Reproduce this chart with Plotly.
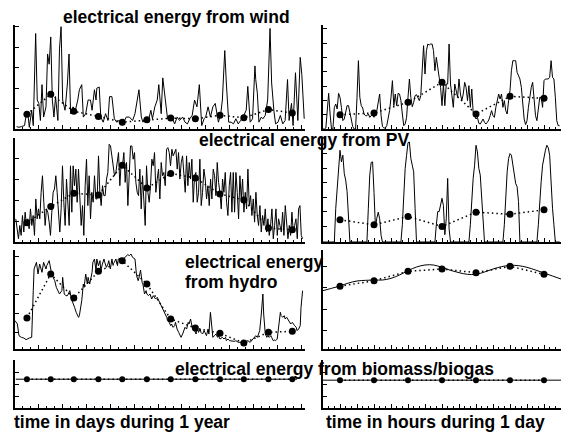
import numpy as np
import plotly.graph_objects as go

# ---------------- data (arbitrary energy units) ----------------
month_days = [15, 45, 74, 105, 135, 166, 196, 227, 258, 288, 319, 349]
day_hours = [12, 36, 60, 84, 108, 132, 156]

wind_days = [2, 5, 8, 12, 14, 16, 18, 21, 23, 25, 26, 28, 30, 32, 34, 36, 39, 41, 43, 45, 47, 49, 51, 54, 56, 58, 60,
             63, 66, 68, 70, 73, 76, 79, 81, 84, 86, 89, 92, 95, 97, 100, 102, 103, 106, 108, 111, 114, 117, 119, 122,
             125, 128, 131, 134, 137, 140, 144, 148, 151, 154, 156, 159, 161, 165, 168, 171, 173, 176, 179, 181, 184,
             186, 189, 192, 195, 198, 201, 204, 207, 211, 214, 217, 220, 223, 226, 229, 232, 235, 238, 240, 243, 246,
             249, 252, 256, 259, 261, 264, 266, 269, 272, 275, 278, 281, 284, 287, 291, 293, 296, 299, 302, 303, 305,
             307, 310, 312, 315, 318, 321, 323, 326, 328, 331, 334, 337, 340, 343, 345, 348, 350, 353, 356, 359, 361, 364]
wind_year = [7, 5, 7, 10, 40, 50, 5, 55, 10, 260, 280, 85, 75, 25, 130, 35, 65, 220, 190, 270, 85, 35, 95, 25, 235, 300,
             85, 55, 135, 220, 45, 65, 55, 85, 115, 130, 35, 45, 85, 85, 55, 115, 85, 120, 123, 35, 20, 45, 25, 95, 95,
             30, 20, 25, 15, 20, 35, 35, 25, 45, 90, 115, 35, 20, 35, 25, 55, 30, 65, 85, 130, 45, 150, 85, 30, 40, 30,
             15, 35, 25, 35, 20, 15, 30, 40, 85, 65, 130, 10, 30, 35, 65, 35, 65, 75, 20, 45, 85, 230, 135, 20, 20, 15,
             30, 15, 25, 35, 55, 125, 20, 30, 185, 145, 105, 20, 35, 30, 40, 85, 295, 135, 50, 15, 20, 40, 15, 25, 145,
             25, 75, 10, 165, 25, 210, 160, 30]
wind_month = [43, 102, 52, 37, 20, 27, 32, 30, 40, 33, 57, 47]

wind_week = [0, 0, 3, 45, 107, 45, 0, 0, 65, 75, 60, 107, 95, 65, 25, 30, 50, 70, 70, 45, 20, 7, 0, 0,
             95, 205, 95, 70, 63, 45, 40, 40, 45, 35, 40, 45, 35, 50, 55, 85, 105, 40, 7, 3, 3, 10, 35, 55,
             95, 145, 70, 105, 70, 107, 105, 85, 45, 10, 15, 35, 95, 150, 95, 67, 80, 100, 103, 95, 85, 100, 185, 250,
             165, 235, 255, 252, 255, 255, 235, 175, 215, 175, 155, 125, 70, 135, 70, 135, 135, 255, 135, 100, 65, 135, 115, 95,
             150, 105, 85, 105, 140, 125, 85, 130, 65, 120, 50, 40, 30, 35, 17, 15, 23, 30, 20, 15, 20, 27, 40, 55,
             40, 35, 65, 85, 105, 90, 105, 65, 85, 55, 45, 85, 115, 175, 205, 205, 205, 170, 160, 150, 125, 75, 30, 13,
             25, 65, 100, 125, 140, 95, 40, 25, 55, 95, 95, 65, 145, 150, 150, 150, 155, 205, 155, 150, 95, 25, 10, 10]
wind_daily = [43, 48, 80, 140, 45, 98, 92]

pv_year = [70, 30, 10, 50, 20, 80, 30, 90, 50, 70, 40, 100, 50, 80, 20, 130, 70, 100, 70, 150, 200, 120, 50, 100, 90,
           60, 20, 90, 150, 160, 200, 150, 70, 30, 100, 230, 120, 50, 190, 120, 50, 230, 90, 230, 170, 220, 120, 220,
           150, 50, 110, 20, 170, 250, 110, 200, 70, 150, 120, 200, 130, 130, 260, 150, 110, 170, 140, 140, 190, 210,
           295, 290, 260, 220, 200, 210, 250, 270, 170, 240, 230, 270, 180, 240, 110, 200, 290, 290, 250, 270, 180,
           150, 140, 220, 100, 200, 120, 50, 230, 150, 120, 170, 250, 230, 270, 150, 190, 220, 130, 240, 200, 210,
           170, 280, 285, 270, 230, 280, 260, 270, 280, 220, 270, 190, 240, 260, 200, 150, 260, 170, 240, 190, 250,
           120, 200, 210, 120, 150, 250, 110, 150, 220, 190, 130, 170, 110, 190, 130, 220, 200, 140, 240, 180, 150,
           100, 190, 150, 210, 120, 80, 170, 210, 90, 210, 90, 210, 150, 70, 200, 130, 190, 90, 150, 100, 220, 110,
           140, 80, 130, 60, 150, 80, 50, 110, 30, 80, 50, 100, 30, 70, 20, 50, 100, 10, 50, 100, 20, 70, 50, 30, 90,
           20, 110, 50, 10, 50, 20, 90, 30, 50, 70, 10, 100, 110, 20, 10]
pv_month = [58, 107, 147, 142, 232, 163, 207, 193, 145, 127, 42, 37]

pv_week = [0, 0, 0, 0, 0, 0, 0, 0, 0, 102, 162, 222, 277, 242, 262, 207, 187, 152, 52, 0, 0, 0, 0, 0,
           0, 0, 0, 0, 0, 0, 0, 0, 102, 202, 240, 242, 150, 45, 72, 90, 70, 20, 0, 0, 0, 0, 0, 0,
           0, 0, 0, 0, 0, 0, 0, 0, 52, 152, 222, 262, 300, 302, 252, 232, 212, 102, 0, 0, 0, 0, 0, 0,
           0, 0, 0, 0, 0, 0, 0, 0, 52, 92, 92, 117, 132, 110, 22, 70, 192, 40, 0, 0, 0, 0, 0, 0,
           0, 0, 0, 0, 0, 0, 0, 0, 52, 132, 192, 232, 292, 272, 222, 202, 137, 82, 0, 0, 0, 0, 0, 0,
           0, 0, 0, 0, 0, 0, 0, 0, 52, 152, 212, 252, 267, 262, 232, 217, 177, 167, 122, 0, 0, 0, 0, 0,
           0, 0, 0, 0, 0, 0, 0, 0, 52, 132, 182, 232, 262, 277, 292, 285, 262, 172, 102, 52, 0, 0, 0, 0]
pv_daily = [67, 52, 77, 47, 90, 84, 97]

hydro_days = [0, 3, 5, 8, 11, 14, 18, 21, 23, 24, 27, 29, 31, 34, 36, 39, 40, 43, 45, 46, 48, 50, 52, 55, 56, 59, 60,
              62, 64, 66, 69, 71, 72, 75, 77, 80, 81, 84, 86, 87, 89, 91, 92, 94, 97, 98, 100, 102, 103, 105, 107, 108,
              110, 112, 113, 115, 117, 118, 120, 122, 123, 125, 127, 129, 130, 133, 134, 136, 138, 139, 142, 144, 146,
              148, 150, 151, 153, 155, 156, 158, 160, 161, 163, 165, 166, 168, 170, 172, 174, 176, 177, 179, 181, 183,
              186, 187, 189, 191, 192, 194, 196, 197, 199, 201, 202, 204, 206, 207, 209, 211, 213, 214, 216, 218, 219,
              221, 223, 224, 226, 228, 229, 231, 233, 234, 236, 238, 239, 241, 243, 244, 246, 248, 249, 251, 253, 255,
              256, 258, 260, 261, 263, 265, 266, 268, 270, 273, 276, 278, 281, 283, 286, 288, 291, 293, 296, 298, 300,
              302, 303, 305, 307, 308, 310, 312, 313, 315, 317, 318, 320, 322, 323, 325, 327, 328, 330, 332, 334, 335,
              337, 339, 340, 342, 344, 345, 347, 349, 350, 352, 354, 355, 357, 359, 360, 362]
hydro_year = [85, 75, 40, 35, 33, 28, 33, 35, 175, 240, 260, 225, 255, 230, 260, 240, 250, 265, 240, 225, 215, 205,
              185, 170, 165, 175, 215, 165, 160, 160, 175, 150, 145, 125, 110, 95, 100, 145, 195, 185, 225, 195, 215,
              195, 230, 260, 270, 235, 270, 250, 265, 235, 255, 270, 260, 245, 255, 265, 240, 270, 255, 260, 270, 250,
              270, 273, 265, 270, 275, 275, 283, 280, 285, 275, 270, 270, 220, 205, 213, 237, 200, 195, 165, 175, 165,
              160, 165, 150, 160, 153, 150, 155, 145, 135, 125, 115, 105, 95, 85, 80, 70, 75, 65, 70, 80, 60, 50, 45,
              35, 45, 55, 65, 60, 80, 75, 90, 65, 70, 55, 45, 70, 50, 60, 50, 45, 55, 50, 40, 60, 45, 110, 60, 35, 40,
              45, 35, 40, 30, 35, 35, 30, 35, 25, 30, 25, 23, 23, 25, 20, 20, 20, 20, 23, 25, 20, 25, 30, 35, 40, 35,
              45, 55, 105, 165, 105, 45, 35, 40, 35, 40, 35, 25, 27, 25, 30, 75, 110, 100, 95, 100, 90, 95, 85, 80, 75,
              80, 75, 70, 65, 55, 60, 70, 125, 175]
hydro_month = [93, 225, 153, 233, 265, 195, 90, 63, 47, 18, 50, 53]

hydro_hours = [0, 6, 12, 18, 24, 30, 36, 42, 48, 54, 60, 66, 72, 78, 84, 90, 96, 102, 108, 114, 120, 126, 132, 138,
               144, 150, 156, 162, 168]
hydro_week = [175, 182, 189, 198, 204, 206, 207, 207, 212, 222, 235, 246, 252, 252, 245, 236, 229, 224, 224, 231, 240,
              247, 251, 250, 245, 237, 228, 219, 210]
hydro_daily = [188, 205, 233, 240, 229, 248, 224]

bio_line_days = [1, 355]
bio_line_year = [6, 6]
bio_month = [6, 6, 6, 6, 6, 6, 6, 6, 6, 6, 6, 6]
bio_line_hours = [0, 168]
bio_line_week = [5.8, 5.8]
bio_daily = [5.8, 5.8, 5.8, 5.8, 5.8, 5.8, 5.8]

# ---------------- figure ----------------
W, H = 562, 433
fig = go.Figure()

FONT = "Liberation Sans, Arial, Helvetica, sans-serif"


def px_x(p):
    return p / W


def px_y(p):
    return 1 - p / H


rows = [(25, 129), (138, 242), (250, 349), (360, 408)]
left_dom = [px_x(15), px_x(305)]
right_dom = [px_x(323), px_x(561)]

yranges_left = [[0, 305], [0, 314], [0, 297], [0, 10]]
yranges_right = [[0, 312], [0, 314], [0, 297], [0, 10]]
ytick_left = [(0, 60), (0, 63), (50, 57), (0, 2.5)]
ytick_right = [(0, 43), (3, 44), (56, 64), (0, 2.5)]

layout = dict(width=W, height=H, margin=dict(l=0, r=0, t=0, b=0),
              plot_bgcolor="white", paper_bgcolor="white", showlegend=False)

axis_common = dict(showline=True, linecolor="black", linewidth=2, ticks="inside", ticklen=4,
                   tickcolor="black", tickwidth=1, showticklabels=False, showgrid=False, zeroline=False)

for i, (top, bot) in enumerate(rows):
    ydom = [px_y(bot), px_y(top)]
    li = 2 * i + 1
    ri = 2 * i + 2
    for idx, xdom, xr, dt, mdt, yr, yt in [
        (li, left_dom, [0, 365], 30, 10, yranges_left[i], ytick_left[i]),
        (ri, right_dom, [0, 168], 12, 4, yranges_right[i], ytick_right[i]),
    ]:
        xs = "xaxis" if idx == 1 else f"xaxis{idx}"
        ys = "yaxis" if idx == 1 else f"yaxis{idx}"
        layout[xs] = dict(axis_common, domain=xdom, range=xr, anchor=f"y{idx}" if idx > 1 else "y",
                          tick0=0, dtick=dt, minor=dict(ticks="inside", ticklen=2, dtick=mdt, tickcolor="black"))
        layout[ys] = dict(axis_common, domain=ydom, range=yr, anchor=f"x{idx}" if idx > 1 else "x",
                          tick0=yt[0], dtick=yt[1])

fig.update_layout(**layout)


def ax(idx):
    return ("x" if idx == 1 else f"x{idx}", "y" if idx == 1 else f"y{idx}")


def add_series(idx, x, y, shape="linear"):
    xa, ya = ax(idx)
    fig.add_trace(go.Scatter(x=x, y=y, mode="lines", line=dict(color="black", width=1, shape=shape),
                             xaxis=xa, yaxis=ya, hoverinfo="skip"))


def add_avg(idx, x, y, msize=7):
    xa, ya = ax(idx)
    fig.add_trace(go.Scatter(x=x, y=y, mode="lines+markers",
                             line=dict(color="black", width=1.5, dash="1.5px,3px"),
                             marker=dict(color="black", size=msize),
                             xaxis=xa, yaxis=ya, hoverinfo="skip"))


pv_days = np.linspace(1, 362, len(pv_year))
hours = np.arange(len(wind_week))

add_series(1, wind_days, wind_year)
add_avg(1, month_days, wind_month)
add_series(2, hours, wind_week)
add_avg(2, day_hours, wind_daily)

add_series(3, pv_days, pv_year)
add_avg(3, month_days, pv_month)
add_series(4, hours, pv_week)
add_avg(4, day_hours, pv_daily)

add_series(5, hydro_days, hydro_year)
add_avg(5, month_days, hydro_month)
add_series(6, hydro_hours, hydro_week, shape="spline")
add_avg(6, day_hours, hydro_daily)

add_series(7, bio_line_days, bio_line_year)
add_avg(7, month_days, bio_month, msize=6)
add_series(8, bio_line_hours, bio_line_week)
add_avg(8, day_hours, bio_daily, msize=6)

tf = dict(family=FONT, size=17.5, color="black")
annos = [
    ("<b>electrical energy from wind</b>", 176, 17, "center"),
    ("<b>electrical energy from PV</b>", 304, 140, "center"),
    ("<b>electrical energy</b>", 183, 262, "left"),
    ("<b>from hydro</b>", 183, 282, "left"),
    ("<b>electrical energy from biomass/biogas</b>", 334, 369, "center"),
    ("<b>time in days during 1 year</b>", 122, 422, "center"),
    ("<b>time in hours during 1 day</b>", 435, 422, "center"),
]
for text, x, y, xa in annos:
    fig.add_annotation(text=text, x=px_x(x), y=px_y(y), xref="paper", yref="paper",
                       xanchor=xa, yanchor="middle", align="left", showarrow=False, font=tf)

fig.write_html("out.html", config={"displayModeBar": False},
               post_script="document.body.style.margin='0';document.body.style.overflow='hidden';")
